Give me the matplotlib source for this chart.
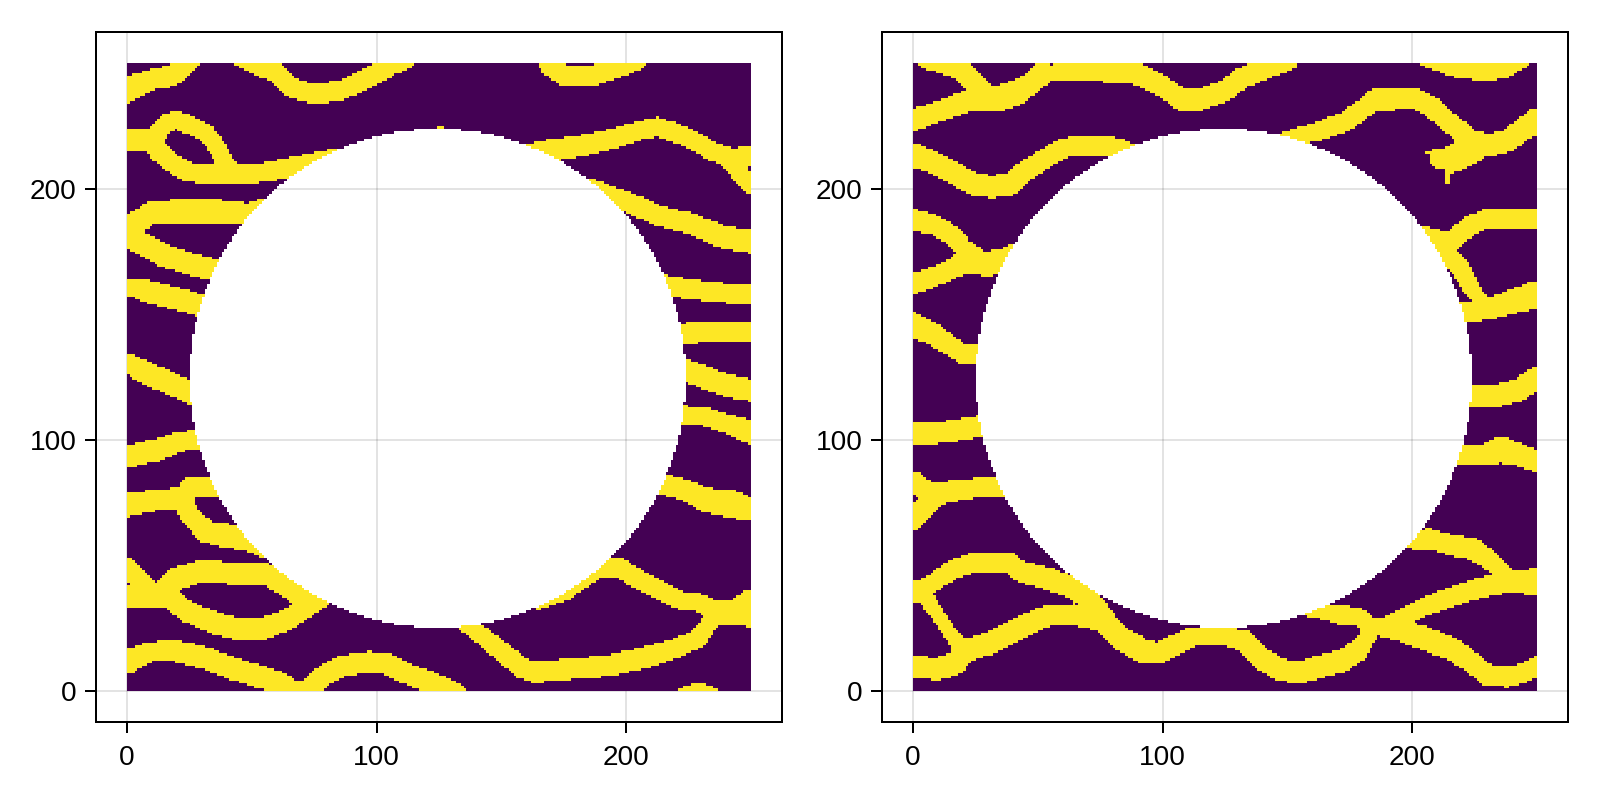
import numpy as np
import matplotlib
matplotlib.use("Agg")
import matplotlib.pyplot as plt

plt.rcParams['font.family'] = ['Liberation Sans', 'DejaVu Sans']

# traced bands: (x, y, width) in data units
L01 = [(0,239.5,9),(10,243.5,7.5),(18,245,7.5),(22,248,7.5),(25,252,8)]
L02 = [(45,253,7),(50.5,250,7),(60,246,7),(66.5,240,7),(76,237.5,7),(86.6,239.5,7),(96,244,7),(106.7,249.5,7),(112,252,7)]
L03a = [(0,219.5,8.6),(10,219.5,8)]
L03b = [(10,220,7),(16,226.6,6.5),(20,227.4,6.5),(25,225.4,6.5),(32,222,6.5),(36.5,216,6.5),(40,209.4,6.5),(42.5,206.8,6.5)]
L03c = [(10,219,7),(12,215.4,7),(17,210.8,7),(24,206.8,7),(30.5,206,7),(44,205.5,7),(57,206.8,7),(65,208.5,7),(73,210,7),(82,212,7)]
L04a = [(0,181.5,8),(3.7,186.8,8),(10.4,190.8,8),(18.4,190.8,8.5),(32,191,8.5),(42.5,190.8,8),(49,189.5,8),(55,192,8)]
L04b = [(0,181.5,8),(7,177.5,8),(14.4,173.5,8),(25,170.2,8),(33,168.2,8),(40,166,8)]
L05 = [(0,161,5.7),(6.4,159.6,8),(17,157,8),(29,153.6,8),(36,152,8)]
L06 = [(0,130.3,7),(8,126.5,8),(17,122.5,8),(25,119,8),(32,117,8)]
L07 = [(0,93.2,8),(11.8,95.9,8),(21,99.2,7),(27.8,99.9,7),(32,101,7)]
L08a = [(0,73.9,8),(11.8,76,7.5),(21.8,76.6,7.5)]
L08b = [(21.8,76.6,7.5),(26,81.2,7.5),(34.5,81.2,7.5),(42,83,7.5)]
L08c = [(21.8,76.6,7),(25,69.9,7),(31.8,63.3,8),(38.5,62,8.5),(47.9,60.6,8.5),(55,58,8.5)]
L09a = [(0,49.3,7),(10.4,38,7)]
L09b = [(0,37.4,7.5),(17,37.4,7.5)]
L09c = [(13.8,39.4,7.5),(19.8,44.7,8),(29,47.3,8),(49,46.7,8),(57,46,8),(65,40.7,7.5),(72,35,7)]
L09d = [(17,37.4,7.5),(23.8,31.4,7.5),(35.8,26.7,8),(46.5,24,8),(54.5,24.7,8),(64,28,7.5),(72,33,7),(82,40,7)]
L10 = [(0,11.4,8.5),(9,15.4,6.7),(18.4,16,7.5),(31.8,12.8,8),(42.5,8.8,8),(52,6,8),(62,3,7.5),(67,-0.5,7.5),(72,0,7.5),(78,5.5,7.5),(86.6,10,7.5),(97,11.4,7.5),(104,10.8,7.5),(112,6.8,7.5),(125.4,2,7.5),(132,-1,7.5)]
L11 = [(132,30,6.5),(142.8,21.4,6.5),(152,14,7),(158.8,8.8,7.5),(164,7.4,7.5),(179,8.8,7.5),(192.8,10,7.5),(206,12.8,7.5),(219.9,16.8,7),(229,20.7,6.5),(233.9,27.4,6),(234.8,30.7,6)]
L12 = [(192,49.3,7.3),(197.6,48.7,7.3),(205.6,44,7),(213.6,40,6.5),(221.6,36,6.5),(231,34.7,6.5),(236,31,8),(243,31,9),(250,32.5,14)]
L12s = [(165,34,3),(176,37.5,3),(184,43,3),(192,49,4)]
L13 = [(223,-2.5,6.5),(229,-0.5,6.5),(235,-2.5,6.5)]
L14 = [(210,83,7.5),(216,81.9,7.5),(224,79.9,7.5),(232,75.9,8.5),(241.7,74.6,10),(250,72,8)]
L15 = [(218,110,6.7),(224,109.8,6.7),(232,109.2,6.7),(240,106.5,6.7),(250,103.2,8.7)]
L16 = [(218,129,8),(224,127.5,8),(232,124.7,8),(236.4,123,8),(243,121,8),(250,119.8,8)]
L17 = [(216,142,7),(222.9,142.3,7),(230.9,143,8),(238.9,143,8),(250,143,8)]
L18 = [(210,162.5,7),(217,161.6,7),(224.3,160.2,7.3),(235,158.9,7),(250,157.6,7)]
L19 = [(186,200,7),(193,197.5,7),(201.7,194.2,7.3),(212,189.5,7.3),(225.7,186.2,7.5),(239,180.8,8),(250,178.9,8)]
L20 = [(155,211,8),(163,214,8),(170.9,215.4,8),(182.9,217.4,7.5),(194.9,220,7),(205.6,223.4,6.8),(212.3,224.7,6.8),(219,222.7,6.8),(227,219.4,6.8),(235,214.8,6.8),(243,212,7)]
L20a = [(243,212,7),(250,213.4,7.3)]
L20b = [(243,209.4,6.5),(250,201.4,6.5)]
L21 = [(169.5,248.7,7.3),(176,244.7,7.3),(181.6,244.7,7.3),(188,245.4,7.3),(196,248,7.3),(204,251.3,7.3)]
L22 = [(124,224,1),(127,224,1)]

R01 = [(5,252,7.5),(12,250,7.5),(19,247.5,7.5),(23.5,243,7.5),(28,239,7.5)]
R02 = [(0,227.4,8),(7.4,230,7.3),(15.4,232.7,7.3),(24.7,236,8),(34,236,9),(40.8,238,9),(47.5,242,8),(51.5,247.3,6),(53,250.7,4)]
R03 = [(51.5,243.4,5),(55.5,246,5),(60,247,7),(64.8,247,8),(75.5,247,8),(89,246,8),(94,244,7.5),(101,240,7.5),(107.6,235.4,7.5),(114.3,235.4,7.5),(125,239,7.5),(131.7,244,7.5),(139.7,247.3,7.5),(150.4,251.3,7.5)]
R04 = [(0,213.4,8.8),(7.4,210.8,8),(15.4,206.8,8),(23.4,202,8),(31.4,200.8,8),(39.4,202,8),(44.8,206.8,7.5),(52.8,212,7),(59.5,216,7),(67.5,217.4,7),(78.2,217.4,7),(84.9,216,6),(92,212,6)]
R05 = [(0,187.5,8),(8.7,185.5,7),(15.4,181.5,7),(20.7,176,6.5),(24.7,173.5,6.5)]
R06 = [(0,162.2,7.3),(11.4,166,7),(20.7,170.9,8),(30,170.2,9),(36.8,172.2,8),(42,174,8)]
R07 = [(0,145.6,9),(7.4,142.3,8),(15.4,137,7),(20.7,133.6,7),(24.7,133.6,7),(30,133.6,7)]
R08 = [(0,102.4,8),(12.7,103,7.7),(24.7,105,7.7),(30,106,7.7)]
R09a = [(0,83.2,7.7),(7.4,78,7)]
R09b = [(0,68.6,8),(4.7,73.1,7),(8.7,77,7)]
R09c = [(7,78,8),(18,79.8,7.5),(24.7,80.6,7),(35.4,81.2,7),(42,82,7)]
R10 = [(0,39.3,6.7),(7.4,42.6,6.5),(15.4,48,7),(24.7,51.3,7.3),(38,51.3,7.3),(43.4,47.4,7.5),(54,44.7,8),(64.8,40.7,8),(70,36.7,8),(76.9,28.7,7.5)]
R11 = [(0,39.3,6),(4.7,37.4,6),(10,30,5),(15.4,22,5),(19.4,16.8,6)]
R12 = [(0,9.4,8),(10,8.8,8),(16.7,10.8,8),(20.7,16,8),(30,18.6,8),(42,24.7,8),(54,29.8,7.5),(64.8,30.2,7.7),(75.5,28,8),(83.5,20.7,8.5),(91.6,16,8.5),(98,14.9,7.7),(105,18,7.5),(111.6,21.4,7.3),(118,21.8,6.5),(125,21.5,6.7),(133,19.8,7.3),(139.7,12.8,8),(146.4,8.8,8),(154.4,7,8),(162.4,9.4,8),(171.8,11.8,8),(178.5,16,7.5),(182.5,22,6),(183.5,26,6)]
R13 = [(158,33,6),(165,31.4,6),(171.8,30,6.8),(178.5,29.4,6.5),(183.5,25.4,6.5),(190,25.4,7.5)]
R14 = [(190,25.4,7.5),(197,29.4,6.6),(205,33.4,6.6),(215.9,37.4,7),(226.6,40.7,7.3),(236,42.7,7.5),(242.7,43.4,8),(250,43.4,10)]
R15 = [(190,25.4,7.5),(197,23.4,8),(205,20.7,8.5),(215.9,16.7,8),(223.9,11.4,7.5),(230.6,6,7.3),(238.6,5.5,7.3),(245.3,7.4,7),(250,10,6.7)]
R16 = [(196,60.5,6.5),(201.2,60,6.5),(206.5,60.6,7.3),(216,58,7.3),(224,56.6,8),(230.6,52.6,7),(236,47.3,6),(238.6,44.7,6)]
R17 = [(212,94,7.3),(219.3,93.9,7.3),(229.3,93.9,7.3),(236,95.9,9.5),(243,93.9,8),(250,91.5,8)]
R18 = [(216,151,7.3),(222.2,151,7.3),(232,152.3,7.7),(240,155,8.5),(250,157.9,10)]
R19 = [(218,117,8),(224,117.1,8),(234.6,117.8,8),(242.7,119.8,8),(250,124.5,8)]
R20 = [(148,219,6),(155.8,221.4,6),(163.9,223.4,7),(173,226.7,7),(179.8,231.4,7),(185,235.4,7.5),(193,236,8),(201,236,7.5),(207.7,232.7,7.3),(213,228,7.3),(219.8,222.7,7.3),(223.8,219.4,7.5),(231.8,217.4,8),(238.6,219.4,8),(243.9,223.4,8),(250,227.4,8.8)]
R21a = [(225,216,10),(216,212,10),(211,212,7)]
R21b = [(211,210,4),(215,210,4)]
R21c = [(214,209,3),(214,203,1.5)]
R21d = [(206,214.6,1),(210,215,1.5)]
R22 = [(200,181,6.5),(207.9,180.2,6.5),(215.9,178.9,7),(222.6,184.9,7),(230.6,188.2,7),(238.6,188.2,7),(250,188.2,7)]
R23 = [(205,181,7.5),(211.9,176.2,7.5),(218.6,169.6,7),(224,160.2,6),(228,155,5),(232,152,5)]
R24 = [(205.2,252.7,7),(215.9,248.7,7),(229.3,246.7,7),(237.3,248,7),(246,253.3,7)]

left_bands = [L01,L02,L03a,L03b,L03c,L04a,L04b,L05,L06,L07,L08a,L08b,L08c,L09a,L09b,L09c,L09d,
              L10,L11,L12,L12s,L13,L14,L15,L16,L17,L18,L19,L20,L20a,L20b,L21,L22]
right_bands = [R01,R02,R03,R04,R05,R06,R07,R08,R09a,R09b,R09c,R10,R11,R12,R13,R14,R15,R16,R17,
               R18,R19,R20,R21a,R21b,R21c,R21d,R22,R23,R24]

tick_values = [0, 100, 200]
circle_centre = 124.5
circle_radius = 99.5
grid_size = 250
width_scale = 1.12


def rasterise(bands):
    edges = np.arange(grid_size + 1)
    cx, cy = np.meshgrid(edges[:-1] + 0.5, edges[:-1] + 0.5)
    field = np.zeros_like(cx)
    for band in bands:
        pts = np.array(band, float)
        for (x0, y0, w0), (x1, y1, w1) in zip(pts[:-1], pts[1:]):
            dx, dy = x1 - x0, y1 - y0
            t = ((cx - x0) * dx + (cy - y0) * dy) / (dx * dx + dy * dy)
            t = np.clip(t, 0, 1)
            d = np.hypot(cx - (x0 + t * dx), cy - (y0 + t * dy))
            field[d <= width_scale * (w0 + t * (w1 - w0)) / 2] = 1.0
    field[np.hypot(cx - circle_centre, cy - circle_centre) < circle_radius] = np.nan
    return edges, field


fig = plt.figure(figsize=(16, 8), dpi=100)
W, H = 1600.0, 800.0
boxes = [(96, 782), (882, 1568)]
top, bottom = 32, 722
for (x0, x1), bands in zip(boxes, [left_bands, right_bands]):
    ax = fig.add_axes([x0 / W, 1 - bottom / H, (x1 - x0) / W, (bottom - top) / H])
    edges, field = rasterise(bands)
    ax.pcolormesh(edges, edges, field, cmap='viridis', vmin=0, vmax=1,
                  shading='flat', antialiased=False, linewidth=0, zorder=2)
    ax.set_xlim(-12.5, 262.5)
    ax.set_ylim(-12.5, 262.5)
    ax.set_xticks(tick_values)
    ax.set_yticks(tick_values)
    ax.grid(True, color='black', alpha=0.11, linewidth=1.44, zorder=1)
    ax.set_axisbelow(True)
    ax.tick_params(axis='y', length=7.9, width=1.44, labelsize=20.16, pad=6)
    ax.tick_params(axis='x', length=7.9, width=1.44, labelsize=20.16, pad=8.5)
    for s in ax.spines.values():
        s.set_linewidth(1.44)
        s.set_zorder(5)

fig.savefig('out.png', dpi=100, facecolor='white')
